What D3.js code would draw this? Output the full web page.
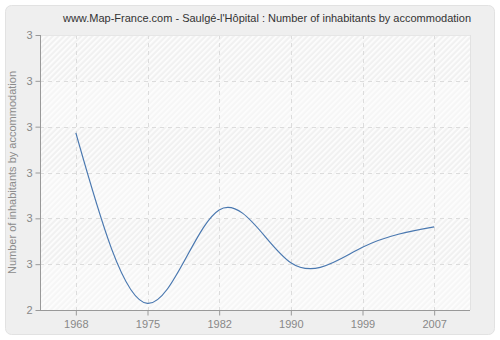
<!DOCTYPE html>
<html>
<head>
<meta charset="utf-8">
<script src="https://cdn.jsdelivr.net/npm/d3@7"></script>
<style>
  html, body { margin: 0; padding: 0; background: #ffffff; }
  svg { display: block; font-family: "Liberation Sans", Arial, sans-serif; }
</style>
</head>
<body>
<svg id="chart" width="500" height="340"></svg>
<script>
// Census years and average number of inhabitants per accommodation
const years = ["1968", "1975", "1982", "1990", "1999", "2007"];
const inhabitantsPerHome = [2.644, 2.024, 2.364, 2.172, 2.228, 2.302];

// Y axis gridline values and their printed labels
const yTicks = [2, 2 + 1 / 6, 2 + 2 / 6, 2.5, 2 + 4 / 6, 2 + 5 / 6, 3];
const yTickLabels = ["2", "3", "3", "3", "3", "3", "3"];

const titleText = "www.Map-France.com - Saulgé-l'Hôpital : Number of inhabitants by accommodation";
const yTitle = "Number of inhabitants by accommodation";

const svg = d3.select("#chart");
const W = 500, H = 340;
const m = { left: 40, right: 30, top: 35, bottom: 30 };
const pw = W - m.left - m.right, ph = H - m.top - m.bottom;

const defs = svg.append("defs");
function hatch(id, bg, stripe) {
  const p = defs.append("pattern")
    .attr("id", id).attr("patternUnits", "userSpaceOnUse")
    .attr("width", 4).attr("height", 4)
    .attr("patternTransform", "rotate(45)");
  p.append("rect").attr("width", 4).attr("height", 4).attr("fill", bg);
  p.append("rect").attr("width", 1.8).attr("height", 4).attr("fill", stripe);
}
hatch("hatchA", "#f1f1f1", "#fdfdfd");
hatch("hatchB", "#f6f6f6", "#fdfdfd");

// Outer frame
svg.append("rect")
  .attr("x", 5.5).attr("y", 5.5).attr("width", W - 11).attr("height", H - 11)
  .attr("rx", 6).attr("fill", "#efefef").attr("stroke", "#e2e2e2");

const x = d3.scalePoint().domain(years).range([m.left, m.left + pw]).padding(0.5);
const y = d3.scaleLinear().domain([2, 3]).range([m.top + ph, m.top]);

const g = svg.append("g");

// Plot background: alternating hatched bands between gridlines
g.append("rect").attr("x", m.left).attr("y", m.top).attr("width", pw).attr("height", ph)
  .attr("fill", "#ffffff");
g.selectAll("rect.band")
  .data(d3.range(yTicks.length - 1))
  .join("rect").attr("class", "band")
  .attr("x", m.left)
  .attr("y", i => y(yTicks[i + 1]))
  .attr("width", pw)
  .attr("height", i => y(yTicks[i]) - y(yTicks[i + 1]))
  .attr("fill", i => (yTicks.length - 2 - i) % 2 === 0 ? "url(#hatchA)" : "url(#hatchB)");

// Dashed gridlines
g.selectAll("line.hgrid")
  .data(yTicks.slice(1))
  .join("line").attr("class", "hgrid")
  .attr("x1", m.left).attr("x2", m.left + pw)
  .attr("y1", d => Math.round(y(d)) + 0.5).attr("y2", d => Math.round(y(d)) + 0.5)
  .attr("stroke", "#dcdcdc").attr("stroke-dasharray", "4,4");
g.selectAll("line.vgrid")
  .data(years)
  .join("line").attr("class", "vgrid")
  .attr("x1", d => Math.round(x(d)) + 0.5).attr("x2", d => Math.round(x(d)) + 0.5)
  .attr("y1", m.top).attr("y2", m.top + ph)
  .attr("stroke", "#dcdcdc").attr("stroke-dasharray", "4,4");

// Right and top edges of plot
g.append("line")
  .attr("x1", m.left + pw + 0.5).attr("x2", m.left + pw + 0.5)
  .attr("y1", m.top).attr("y2", m.top + ph)
  .attr("stroke", "#e2e2e2");
g.append("line")
  .attr("x1", m.left).attr("x2", m.left + pw)
  .attr("y1", m.top + 0.5).attr("y2", m.top + 0.5)
  .attr("stroke", "#e6e6e6");

// Axes
const yAxis = d3.axisLeft(y).tickValues(yTicks)
  .tickFormat((d, i) => yTickLabels[i]).tickSize(5).tickPadding(3);
const xAxis = d3.axisBottom(x).tickSize(5).tickPadding(5);

const ya = svg.append("g").attr("transform", `translate(${m.left + 0.5},0)`).call(yAxis);
const xa = svg.append("g").attr("transform", `translate(0,${m.top + ph + 0.5})`).call(xAxis);
[ya, xa].forEach(a => {
  a.select(".domain").attr("stroke", "#999999");
  a.selectAll(".tick line").attr("stroke", "#999999");
  a.selectAll(".tick text").attr("fill", "#888888")
    .style("font-size", "11px").style("font-family", "'Liberation Sans', Arial, sans-serif");
});
ya.select(".domain").attr("d", `M-0,${m.top}V${m.top + ph}`);
xa.select(".domain").attr("d", `M${m.left},0H${m.left + pw}`);

// Data line
const line = d3.line()
  .x((d, i) => x(years[i]))
  .y(d => y(d))
  .curve(d3.curveNatural);
svg.append("path")
  .datum(inhabitantsPerHome)
  .attr("d", line)
  .attr("fill", "none")
  .attr("stroke", "#4a78b0")
  .attr("stroke-width", 1.2);

// Titles
svg.append("text")
  .attr("x", 267).attr("y", 22)
  .attr("text-anchor", "middle")
  .attr("fill", "#333333")
  .style("font-size", "11px")
  .text(titleText);

svg.append("text")
  .attr("transform", `translate(16,${m.top + ph / 2}) rotate(-90)`)
  .attr("text-anchor", "middle")
  .attr("fill", "#8c8c8c")
  .style("font-size", "11px")
  .text(yTitle);
</script>
</body>
</html>
